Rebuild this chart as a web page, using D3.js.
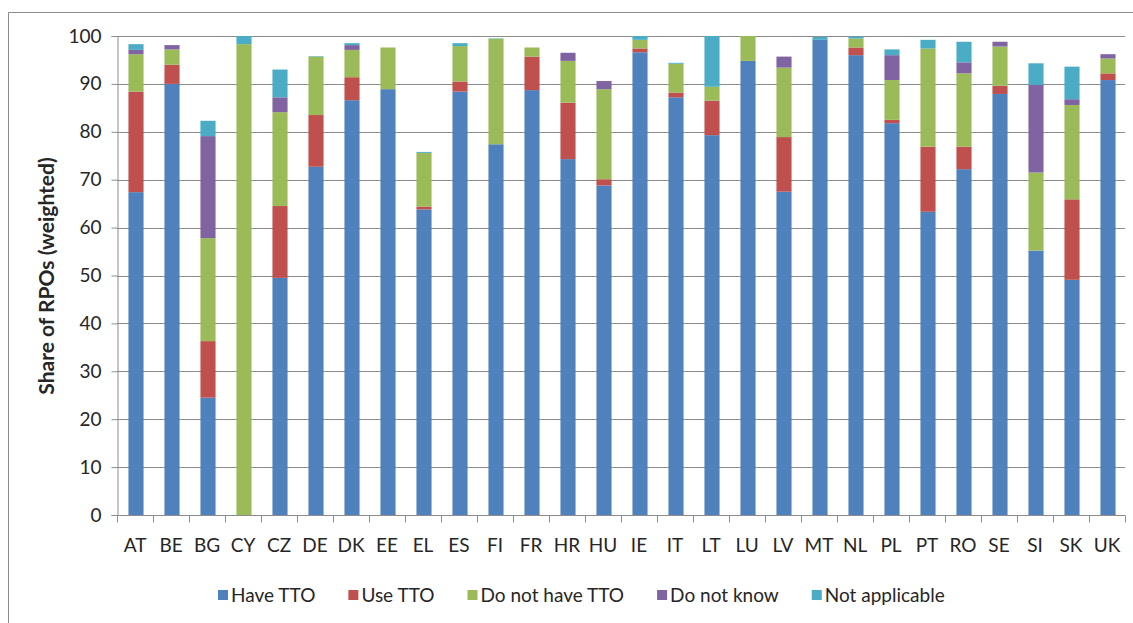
<!DOCTYPE html>
<html>
<head>
<meta charset="utf-8">
<script src="https://cdn.jsdelivr.net/npm/d3@7"></script>
<style>
  html, body { margin: 0; padding: 0; background: #fff; }
  svg { display: block; }
  text { font-family: Lato, "Open Sans", sans-serif; fill: #262626; }
</style>
</head>
<body>
<svg id="chart" width="1133" height="623"></svg>
<script>
const categories = ["AT","BE","BG","CY","CZ","DE","DK","EE","EL","ES","FI","FR","HR","HU","IE","IT","LT","LU","LV","MT","NL","PL","PT","RO","SE","SI","SK","UK"];
const seriesNames = ["Have TTO","Use TTO","Do not have TTO","Do not know","Not applicable"];
const haveTTO     = [67.4, 90.0, 24.5,  0.0, 49.5, 72.7, 86.6, 88.9, 63.8, 88.4, 77.4, 88.7, 74.3, 68.8, 96.6, 87.2, 79.3, 94.8, 67.5, 99.2, 96.0, 81.8, 63.3, 72.2, 87.9, 55.2, 49.1, 90.8];
const useTTO      = [21.0,  4.0, 11.8,  0.0, 15.0, 10.8,  4.8,  0.0,  0.6,  2.1,  0.0,  7.0, 11.8,  1.3,  0.8,  1.0,  7.2,  0.0, 11.4,  0.0,  1.6,  0.7, 13.6,  4.7,  1.7,  0.0, 16.8,  1.4];
const doNotHave   = [ 7.8,  3.2, 21.5, 98.3, 19.6, 12.2,  5.7,  8.7, 11.2,  7.4, 22.0,  1.9,  8.7, 18.8,  1.8,  6.0,  2.9,  5.2, 14.5,  0.0,  1.9,  8.3, 20.5, 15.3,  8.2, 16.3, 19.7,  3.1];
const doNotKnow   = [ 0.9,  0.9, 21.3,  0.0,  3.1,  0.0,  1.0,  0.0,  0.0,  0.0,  0.0,  0.0,  1.7,  1.7,  0.0,  0.0,  0.0,  0.0,  2.3,  0.0,  0.0,  5.2,  0.0,  2.3,  1.0, 18.3,  1.2,  0.9];
const notApplic   = [ 1.2,  0.0,  3.2,  1.7,  5.8,  0.1,  0.4,  0.0,  0.2,  0.6,  0.1,  0.0,  0.0,  0.0,  0.8,  0.2, 10.6,  0.0,  0.0,  0.6,  0.4,  1.2,  1.8,  4.3,  0.0,  4.5,  6.8,  0.0];
const yTicks = [0,10,20,30,40,50,60,70,80,90,100];
const colors = ["#4F81BD","#C0504D","#9BBB59","#8064A2","#4BACC6"];
const yTitle = "Share of RPOs (weighted)";

const seriesValues = [haveTTO, useTTO, doNotHave, doNotKnow, notApplic];
const keys = seriesNames;
const rows = categories.map((c, i) => {
  const r = { cat: c };
  keys.forEach((k, j) => r[k] = seriesValues[j][i]);
  return r;
});
const stacked = d3.stack().keys(keys)(rows);

const svg = d3.select("#chart");
const plotLeft = 117, plotRight = 1125, plotTop = 36, plotBottom = 515;

// outer frame (partly visible)
svg.append("path")
  .attr("d", `M8.5,623 L8.5,12.5 L1133,12.5`)
  .attr("fill", "none").attr("stroke", "#8c8c8c").attr("stroke-width", 1);

const x = d3.scaleBand().domain(categories).range([plotLeft, plotRight]).padding(0);
const y = d3.scaleLinear().domain([0, 100]).range([plotBottom, plotTop]);
const barW = x.bandwidth() * 0.42;

// gridlines
svg.append("g").selectAll("line").data(yTicks.filter(t => t > 0)).join("line")
  .attr("x1", plotLeft).attr("x2", plotRight)
  .attr("y1", d => Math.round(y(d)) + 0.5).attr("y2", d => Math.round(y(d)) + 0.5)
  .attr("stroke", "#8c8c8c").attr("stroke-width", 1);

// bars
const g = svg.append("g");
stacked.forEach((s, j) => {
  g.append("g").attr("fill", colors[j]).selectAll("rect").data(s).join("rect")
    .attr("x", d => x(d.data.cat) + (x.bandwidth() - barW) / 2 + 1)
    .attr("width", barW)
    .attr("y", d => y(d[1]))
    .attr("height", d => Math.max(0, y(d[0]) - y(d[1])));
});

// y axis
const yAxis = d3.axisLeft(y).tickValues(yTicks).tickSize(6).tickPadding(10);
const ya = svg.append("g").attr("transform", `translate(${plotLeft + 0.5},0)`).call(yAxis);
ya.select(".domain").attr("stroke", "#8c8c8c");
ya.selectAll(".tick line").attr("stroke", "#8c8c8c");
ya.selectAll(".tick text").style("font-size", "19px").attr("fill", "#262626").style("font-family", "Lato");

// x axis
const xAxis = d3.axisBottom(x).tickSize(0).tickPadding(23);
const xa = svg.append("g").attr("transform", `translate(0,${plotBottom + 0.5})`).call(xAxis);
xa.select(".domain").attr("stroke", "#8c8c8c").attr("d", `M${plotLeft},0H${plotRight}`);
xa.selectAll(".tick text").style("font-size", "19px").attr("fill", "#262626").style("font-family", "Lato").attr("dy", "0.71em");
// category separator ticks
xa.append("g").selectAll("line").data(categories.concat(["_end"])).join("line")
  .attr("x1", (d, i) => Math.round(plotLeft + i * x.step()) + 0.5)
  .attr("x2", (d, i) => Math.round(plotLeft + i * x.step()) + 0.5)
  .attr("y1", 0).attr("y2", 7)
  .attr("stroke", "#8c8c8c");

// y title
svg.append("text")
  .attr("transform", `translate(54,276) rotate(-90)`)
  .attr("text-anchor", "middle")
  .style("font-size", "21px").style("font-weight", "bold")
  .text(yTitle);

// legend
const leg = svg.append("g");
let cx = 218;
seriesNames.forEach((n, j) => {
  const it = leg.append("g");
  it.append("rect").attr("x", cx).attr("y", 590).attr("width", 10).attr("height", 10).attr("fill", colors[j]);
  const t = it.append("text").attr("x", cx + 13).attr("y", 602).style("font-size", "19px").text(n);
  const w = t.node().getComputedTextLength();
  cx += 13 + w + 33;
});
</script>
</body>
</html>
